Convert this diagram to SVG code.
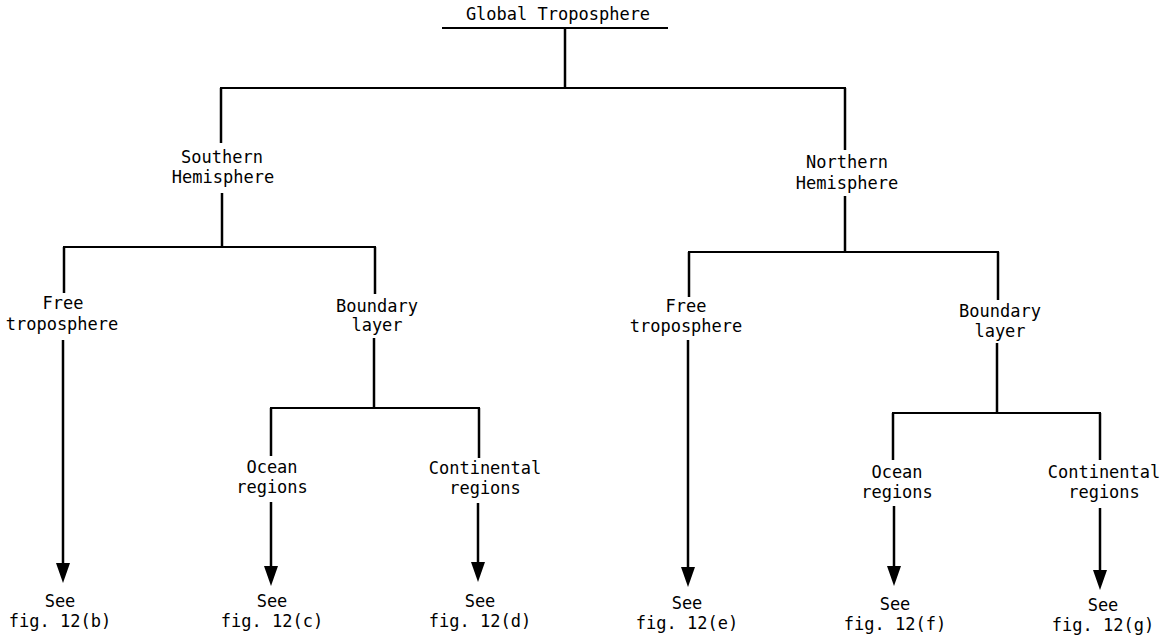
<svg xmlns="http://www.w3.org/2000/svg" width="1172" height="640" viewBox="0 0 1172 640">
<style>
  text { font-family: "DejaVu Sans Mono", "Liberation Mono", monospace; font-size: 17px; fill: #000; text-anchor: middle; }
  .v { stroke: #000; stroke-width: 2.5; fill: none; }
  .h { stroke: #000; stroke-width: 2; fill: none; }
  .a { stroke: #000; stroke-width: 2.5; fill: none; marker-end: url(#arr); }
</style>
<defs>
  <marker id="arr" viewBox="0 0 20 14" refX="12" refY="7" markerWidth="20" markerHeight="14" markerUnits="userSpaceOnUse" orient="auto">
    <path d="M0,0 L20,7 L0,14 Z" fill="#000"/>
  </marker>
</defs>
<rect width="1172" height="640" fill="#fff"/>

<g id="connectors">
  <!-- root -->
  <line class="v" x1="565" y1="28" x2="565" y2="88"/>
  <line class="h" x1="220" y1="88" x2="846" y2="88"/>
  <!-- southern hemisphere -->
  <line class="v" x1="221" y1="88" x2="221" y2="143"/>
  <line class="v" x1="222" y1="193" x2="222" y2="247"/>
  <line class="h" x1="63" y1="247" x2="376" y2="247"/>
  <line class="v" x1="64" y1="247" x2="64" y2="293"/>
  <line class="v" x1="375" y1="247" x2="375" y2="294"/>
  <line class="a" x1="63" y1="340" x2="63" y2="575"/>
  <line class="v" x1="374" y1="338" x2="374" y2="408"/>
  <line class="h" x1="270" y1="408" x2="480" y2="408"/>
  <line class="v" x1="271" y1="408" x2="271" y2="456"/>
  <line class="v" x1="479" y1="408" x2="479" y2="458"/>
  <line class="a" x1="271" y1="502" x2="271" y2="578"/>
  <line class="a" x1="478" y1="503" x2="478" y2="574"/>
  <!-- northern hemisphere -->
  <line class="v" x1="845" y1="88" x2="845" y2="150"/>
  <line class="v" x1="845" y1="196" x2="845" y2="252"/>
  <line class="h" x1="688" y1="252" x2="999" y2="252"/>
  <line class="v" x1="689" y1="252" x2="689" y2="297"/>
  <line class="v" x1="998" y1="252" x2="998" y2="300"/>
  <line class="a" x1="688" y1="340" x2="688" y2="579"/>
  <line class="v" x1="997" y1="343" x2="997" y2="413"/>
  <line class="h" x1="892" y1="413" x2="1101" y2="413"/>
  <line class="v" x1="893" y1="413" x2="893" y2="460"/>
  <line class="v" x1="1100" y1="413" x2="1100" y2="460"/>
  <line class="a" x1="894" y1="506" x2="894" y2="578"/>
  <line class="a" x1="1100" y1="508" x2="1100" y2="582"/>
</g>

<g id="node-global">
  <text x="558" y="20">Global Troposphere</text>
  <line class="h" x1="442" y1="28" x2="668" y2="28"/>
</g>

<g id="node-southern">
  <text x="222" y="163">Southern</text>
  <text x="223" y="183">Hemisphere</text>
</g>
<g id="node-northern">
  <text x="847" y="168">Northern</text>
  <text x="847" y="189">Hemisphere</text>
</g>

<g id="node-sh-free">
  <text x="63" y="309">Free</text>
  <text x="62" y="330">troposphere</text>
</g>
<g id="node-sh-boundary">
  <text x="377" y="312">Boundary</text>
  <text x="377" y="331">layer</text>
</g>
<g id="node-nh-free">
  <text x="686" y="312">Free</text>
  <text x="686" y="332">troposphere</text>
</g>
<g id="node-nh-boundary">
  <text x="1000" y="317">Boundary</text>
  <text x="1000" y="337">layer</text>
</g>

<g id="node-sh-ocean">
  <text x="272" y="473">Ocean</text>
  <text x="272" y="493">regions</text>
</g>
<g id="node-sh-cont">
  <text x="485" y="474">Continental</text>
  <text x="485" y="494">regions</text>
</g>
<g id="node-nh-ocean">
  <text x="897" y="478">Ocean</text>
  <text x="897" y="498">regions</text>
</g>
<g id="node-nh-cont">
  <text x="1104" y="478">Continental</text>
  <text x="1104" y="498">regions</text>
</g>

<g id="node-fig-b">
  <text x="60" y="607">See</text>
  <text x="60" y="627">fig. 12(b)</text>
</g>
<g id="node-fig-c">
  <text x="272" y="607">See</text>
  <text x="272" y="627">fig. 12(c)</text>
</g>
<g id="node-fig-d">
  <text x="480" y="607">See</text>
  <text x="480" y="627">fig. 12(d)</text>
</g>
<g id="node-fig-e">
  <text x="687" y="609">See</text>
  <text x="687" y="629">fig. 12(e)</text>
</g>
<g id="node-fig-f">
  <text x="895" y="610">See</text>
  <text x="895" y="630">fig. 12(f)</text>
</g>
<g id="node-fig-g">
  <text x="1103" y="611">See</text>
  <text x="1103" y="631">fig. 12(g)</text>
</g>
</svg>
